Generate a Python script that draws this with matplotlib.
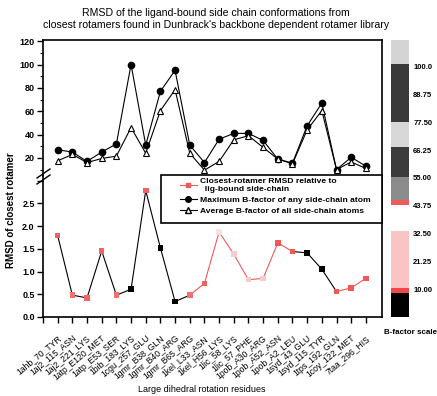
import numpy as np
import matplotlib
matplotlib.use("Agg")
import matplotlib.pyplot as plt
from matplotlib.collections import LineCollection
from matplotlib.lines import Line2D
from matplotlib.patches import Rectangle

plt.rcParams["font.family"] = ["Liberation Sans", "DejaVu Sans"]

residues = [
    "1ahb_70_TYR", "1aj2_115_ASN", "1aj2_221_LYS", "1atp_E120_MET", "1atp_E53_SER",
    "1bib_183_LYS", "1cgu_257_GLU", "1gmr_B38_GLN", "1gmr_B40_ARG", "1gmr_B65_ARG",
    "1kel_L33_ASN", "1kel_H56_LYS", "1lic_58_LYS", "1lic_57_PHE", "1pob_A30_ARG",
    "1pob_A52_ASN", "1pob_A2_LEU", "1syd_43_GLU", "1syd_115_TYR", "1tps_192_GLN",
    "1coy_122_MET", "7taa_296_HIS",
]
max_bfactor = [27, 25, 17, 25, 32, 100, 31, 77, 95, 31, 16, 36,
               41, 41, 35, 19, 15.5, 47.5, 67, 10, 20.5, 13]
avg_bfactor = [17.5, 23, 16, 19.5, 21.5, 46, 24, 60.5, 78.5, 24, 9.5, 17,
               35.5, 39, 29, 19, 15, 44, 60.5, 10, 16.5, 11]
rmsd = [1.79, 0.48, 0.42, 1.45, 0.48, 0.61, 2.78, 1.52, 0.34, 0.48, 0.74, 1.87,
        1.38, 0.82, 0.85, 1.63, 1.44, 1.41, 1.05, 0.56, 0.64, 0.85]
rmsd_colors = ["#f26262", "#f47070", "#f26262", "#f26262", "#f47070", "black",
               "#f26262", "black", "black", "#f47070", "#f26262", "#fbe2e2",
               "#f8cccc", "#f8cccc", "#f8cccc", "#f25858", "#f25858", "black",
               "black", "#f25858", "#f25858", "#f25858"]

# B-factor scale bands: (low, high, colour)
scale_bands = [(-1.3, 8.5, "black"), (8.5, 10.5, "#f04848"), (10.5, 33.4, "#f8c4c4"),
               (44.0, 46.0, "#f05a5a"), (46.0, 55.3, "#8c8c8c"), (55.3, 67.5, "#3c3c3c"),
               (67.5, 77.6, "#d8d8d8"), (77.6, 101.0, "#3a3a3a"), (101.0, 110.8, "#d4d4d4")]
scale_ticks = [10.0, 21.25, 32.5, 43.75, 55.0, 66.25, 77.5, 88.75, 100.0]
scale_labels = ["10.00", "21.25", "32.50", "43.75", "55.00", "66.25", "77.50", "88.75", "100.0"]

x = np.arange(1, len(residues) + 1)
W, H = 437, 396

fig = plt.figure(figsize=(W / 100, H / 100), dpi=100)
left, right = 43 / W, 382 / W
ax_top = fig.add_axes([left, 1 - 176 / H, right - left, 136 / H])
ax_bot = fig.add_axes([left, 1 - 317 / H, right - left, 141 / H])

for ax in (ax_top, ax_bot):
    ax.set_xlim(0, 23.1)
    for s in ax.spines.values():
        s.set_linewidth(1.2)
    ax.tick_params(axis="y", direction="out", length=4, width=1, labelsize=6.5, pad=2)

ax_top.spines["bottom"].set_visible(False)
ax_bot.spines["top"].set_visible(False)

# upper panel: B-factors
ax_top.plot(x, max_bfactor, "-o", color="black", lw=0.8, ms=4.5)
ax_top.plot(x, avg_bfactor, "-^", color="black", lw=0.8, ms=5, mfc="white", mew=0.8)
ax_top.set_ylim(4.5, 121)
ax_top.set_yticks([20, 40, 60, 80, 100, 120])
ax_top.set_yticks([10, 30, 50, 70, 90, 110], minor=True)
ax_top.tick_params(axis="y", which="minor", length=2, width=0.8)
ax_top.set_xticks([])
ax_top.set_yticklabels(["20", "40", "60", "80", "100", "120"], fontweight="bold")

# lower panel: RMSD
pts = np.column_stack([x, rmsd])
segs = [pts[i:i + 2] for i in range(len(x) - 1)]
seg_cols = []
for i in range(len(x) - 1):
    a, b = rmsd_colors[i], rmsd_colors[i + 1]
    seg_cols.append("black" if ("black" in (a, b) or i < 9) else "#f05a5a")
ax_bot.add_collection(LineCollection(segs, colors=seg_cols, linewidths=0.8))
ax_bot.scatter(x, rmsd, marker="s", s=16, c=rmsd_colors, edgecolors="none", zorder=3)
ax_bot.set_ylim(0, 3.1)
ax_bot.set_yticks([0.0, 0.5, 1.0, 1.5, 2.0, 2.5, 3.0])
ax_bot.set_yticklabels(["0.0", "0.5", "1.0", "1.5", "2.0", "2.5", ""], fontweight="bold")
ax_bot.set_xticks(np.arange(0, 23))
ax_bot.set_xticklabels([""] + residues, rotation=40, ha="right",
                       rotation_mode="anchor", fontsize=6.2)
ax_bot.tick_params(axis="x", direction="out", length=4, width=1, pad=8)

# axis break marks
for dy in (-3, 3):
    fig.add_artist(Line2D([37 / W, 50 / W], [1 - (181 + dy) / H, 1 - (172 + dy) / H],
                          color="black", lw=1))

# legend: frame drawn separately, entries placed inside it
fig.add_artist(Rectangle((161 / W, 1 - 223 / H), 221 / W, 48 / H, transform=fig.transFigure,
                         facecolor="white", edgecolor="black", lw=1.2, zorder=4))
handles = [
    Line2D([], [], color="#f05a5a", marker="s", ms=3.5, lw=0.8),
    Line2D([], [], color="black", marker="o", ms=4, lw=0.8),
    Line2D([], [], color="black", marker="^", ms=4.5, mfc="white", lw=0.8),
]
labels = ["Closest-rotamer RMSD relative to\n  lig-bound side-chain",
          "Maximum B-factor of any side-chain atom",
          "Average B-factor of all side-chain atoms"]
leg = fig.legend(handles, labels, loc="upper left", bbox_to_anchor=(180 / W, 1 - 178 / H),
                 fontsize=6.1, frameon=False, handlelength=2.0, handletextpad=0.4,
                 borderpad=0, labelspacing=0.35, borderaxespad=0)
leg.set_zorder(5)
for t in leg.get_texts():
    t.set_fontweight("bold")

# B-factor colour scale
ax_sc = fig.add_axes([391 / W, 1 - 317 / H, 18 / W, 277 / H])
for lo, hi, col in scale_bands:
    ax_sc.axhspan(lo, hi, color=col, lw=0)
ax_sc.set_ylim(-1.3, 110.8)
ax_sc.set_xlim(0, 1)
ax_sc.set_xticks([])
ax_sc.yaxis.tick_right()
ax_sc.set_yticks(scale_ticks)
ax_sc.set_yticklabels(scale_labels, fontsize=5.5, fontweight="bold")
ax_sc.tick_params(axis="y", length=0, pad=3)
for s in ax_sc.spines.values():
    s.set_visible(False)
fig.text(410 / W, 1 - 332 / H, "B-factor scale", fontsize=5.8, fontweight="bold",
         ha="center", va="center")

# titles and axis labels
fig.text(216 / W, 1 - 13 / H, "RMSD of the ligand-bound side chain conformations from",
         fontsize=7.6, ha="center", va="center")
fig.text(216 / W, 1 - 25 / H,
         "closest rotamers found in Dunbrack's backbone dependent rotamer library",
         fontsize=7.6, ha="center", va="center")
fig.text(11 / W, 1 - 210 / H, "RMSD of closest rotamer", rotation=90, fontsize=7,
         fontweight="bold", ha="center", va="center")
fig.text(202 / W, 1 - 390 / H, "Large dihedral rotation residues", fontsize=6.5,
         ha="center", va="center")

fig.savefig("out.png", dpi=100)
